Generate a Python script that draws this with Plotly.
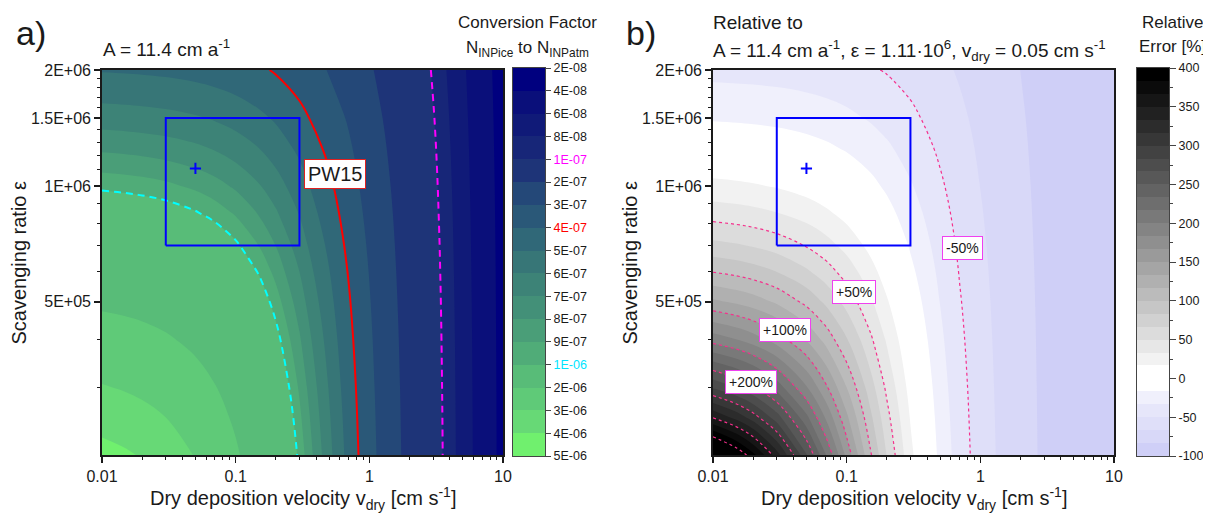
import numpy as np
import plotly.graph_objects as go

# ---------------- data ----------------
V_DRY = [0.01, 0.015, 0.02, 0.03, 0.05, 0.07, 0.1, 0.15, 0.2, 0.3, 0.5, 0.7, 1, 1.5, 2, 3, 5, 7, 10]
EPSILON = [2e5, 2.5e5, 3e5, 4e5, 5e5, 6e5, 7e5, 8.5e5, 1e6, 1.25e6, 1.5e6, 2e6]
# conversion factor N_INPice -> N_INPatm, in units of 1e-7 (rows: EPSILON, cols: V_DRY)
FACTOR_E7 = [
    [43.92, 41.40, 39.16, 35.33, 29.55, 25.40, 20.97, 16.25, 13.27, 9.705, 6.313, 4.678, 3.369, 2.298, 1.743, 1.176, 0.7122, 0.5108, 0.3587],
    [36.01, 34.30, 32.75, 30.03, 25.75, 22.53, 18.98, 15.03, 12.44, 9.255, 6.120, 4.571, 3.313, 2.272, 1.728, 1.169, 0.7097, 0.5095, 0.3580],
    [30.52, 29.28, 28.14, 26.11, 22.81, 20.25, 17.34, 13.98, 11.71, 8.846, 5.938, 4.469, 3.259, 2.246, 1.713, 1.162, 0.7072, 0.5082, 0.3574],
    [23.38, 22.65, 21.96, 20.70, 18.57, 16.84, 14.77, 12.27, 10.49, 8.127, 5.605, 4.278, 3.156, 2.197, 1.685, 1.149, 0.7022, 0.5056, 0.3561],
    [18.95, 18.47, 18.01, 17.15, 15.66, 14.41, 12.87, 10.93, 9.491, 7.516, 5.308, 4.102, 3.060, 2.149, 1.657, 1.136, 0.6973, 0.5031, 0.3548],
    [15.93, 15.59, 15.26, 14.64, 13.54, 12.60, 11.40, 9.850, 8.668, 6.991, 5.040, 3.941, 2.969, 2.104, 1.630, 1.123, 0.6925, 0.5006, 0.3536],
    [13.74, 13.49, 13.24, 12.77, 11.93, 11.19, 10.24, 8.967, 7.977, 6.534, 4.798, 3.791, 2.883, 2.061, 1.604, 1.111, 0.6877, 0.4981, 0.3523],
    [11.39, 11.22, 11.05, 10.72, 10.12, 9.581, 8.875, 7.904, 7.124, 5.951, 4.476, 3.587, 2.764, 1.999, 1.566, 1.092, 0.6807, 0.4944, 0.3505],
    [9.731, 9.601, 9.475, 9.233, 8.784, 8.377, 7.832, 7.066, 6.437, 5.463, 4.195, 3.404, 2.654, 1.941, 1.530, 1.075, 0.6738, 0.4907, 0.3487],
    [7.827, 7.743, 7.661, 7.502, 7.203, 6.926, 6.550, 6.005, 5.544, 4.807, 3.796, 3.137, 2.489, 1.851, 1.474, 1.047, 0.6627, 0.4848, 0.3456],
    [6.546, 6.487, 6.429, 6.317, 6.103, 5.904, 5.628, 5.221, 4.869, 4.291, 3.467, 2.909, 2.343, 1.769, 1.421, 1.020, 0.6518, 0.4790, 0.3427],
    [4.932, 4.898, 4.865, 4.801, 4.676, 4.558, 4.392, 4.140, 3.916, 3.533, 2.955, 2.540, 2.097, 1.625, 1.327, 0.9705, 0.6313, 0.4678, 0.3369],
]
REF_FACTOR = 8.01e-7          # factor at the reference point (+ marker)
REF_V, REF_EPS = 0.05, 1.11e6
BOX_V = [0.03, 0.3]
BOX_EPS = [7e5, 1.5e6]

LEVELS_A = [2e-8, 4e-8, 6e-8, 8e-8, 1e-7, 2e-7, 3e-7, 4e-7, 5e-7, 6e-7, 7e-7, 8e-7, 9e-7,
            1e-6, 2e-6, 3e-6, 4e-6, 5e-6]
LEVEL_LABELS_A = ['2E-08', '4E-08', '6E-08', '8E-08', '1E-07', '2E-07', '3E-07', '4E-07', '5E-07',
                  '6E-07', '7E-07', '8E-07', '9E-07', '1E-06', '2E-06', '3E-06', '4E-06', '5E-06']
LINE_LEVELS_A = {'1E-06': 1e-6, '4E-07': 4e-7, '1E-07': 1e-7}

REL_MIN, REL_MAX, REL_NBANDS = -100, 400, 30
REL_TICKS = [-100, -50, 0, 50, 100, 150, 200, 250, 300, 350, 400]
REL_LINES_POS = [50, 100, 150, 200, 250, 300, 350, 400]
REL_LINE_NEG = -50
REL_LABELS = [('-50%', 0.74, 6.9e5), ('+50%', 0.113, 5.3e5), ('+100%', 0.0344, 4.22e5), ('+200%', 0.01915, 3.09e5)]

X_TICKS = [0.01, 0.1, 1, 10]
X_TICK_TEXT = ['0.01', '0.1', '1', '10']
X_MINOR = [0.02, 0.03, 0.04, 0.05, 0.06, 0.07, 0.08, 0.09, 0.2, 0.3, 0.4, 0.5, 0.6, 0.7, 0.8, 0.9,
           2, 3, 4, 5, 6, 7, 8, 9]
Y_TICKS = [5e5, 1e6, 1.5e6, 2e6]
Y_TICK_TEXT = ['5E+05', '1E+06', '1.5E+06', '2E+06']
Y_MINOR = [3e5, 4e5, 6e5, 7e5, 8e5, 9e5, 1.1e6, 1.2e6, 1.3e6, 1.4e6, 1.6e6, 1.7e6, 1.8e6, 1.9e6]

# ---------------- styles ----------------
BAND_A = ['#00007f', '#0a0f7a', '#101a78', '#172678', '#1e3478', '#244878', '#2a5878', '#306878',
          '#377677', '#3d8377', '#439078', '#4a9e78', '#50ac78', '#58bc78', '#5fca78', '#67d976', '#70f06e']
grays = ['#%02x%02x%02x' % (g, g, g) for g in [242 - 11 * i for i in range(23)]]
BAND_B = ['#cfcff7', '#d8d8f8', '#dfdff9', '#e6e6fa', '#f0f0fc', '#ffffff', '#ffffff'] + grays
LINE_COLORS_A = {'1E-06': ('#00ffff', '7px,5px'), '4E-07': ('#ff0000', 'solid'), '1E-07': ('#ff00ff', '7px,5px')}
PINK = '#f5308c'
FONT = 'Arial, Liberation Sans, sans-serif'
INK = '#1a1a1a'
TRANSPARENT = 'rgba(255,255,255,0)'

# the page body adds an 8 px offset; the figure is sized to fill the rest of the window
OFF = 8
W, H = 1211 - OFF, 521 - OFF


def px(x):
    return (x - OFF) / W


def py(y):
    return 1 - (y - OFF) / H


def fill_scale(region_colors):
    n = len(region_colors) - 1
    cs = []
    for m, c in enumerate(region_colors):
        cs.append([max(0.0, (m - 0.5) / n), c])
        cs.append([min(1.0, (m + 0.5) / n), c])
    return cs


def step_scale(colors):
    n = len(colors)
    cs = []
    for k, c in enumerate(colors):
        cs.append([k / n, c])
        cs.append([(k + 1) / n, c])
    return cs


F = np.array(FACTOR_E7) * 1e-7
logF = np.log10(F)
rel = 100.0 * (F / REF_FACTOR - 1.0)

fig = go.Figure()

# ---- panel a: stacked single-level fills (non-uniform levels) ----
for k in range(len(BAND_A)):
    lev = float(np.log10(LEVELS_A[k]))
    below = BAND_A[k] if k == 0 else TRANSPARENT
    fig.add_trace(go.Contour(
        x=V_DRY, y=EPSILON, z=logF, xaxis='x', yaxis='y', autocontour=False,
        contours=dict(start=lev, end=lev, size=1, coloring='fill', showlines=False),
        colorscale=[[0, below], [1, BAND_A[k]]],
        line=dict(width=0), showscale=False, hoverinfo='skip'))
for lab, lev in LINE_LEVELS_A.items():
    col, dash = LINE_COLORS_A[lab]
    lv = float(np.log10(lev))
    fig.add_trace(go.Contour(
        x=V_DRY, y=EPSILON, z=logF, xaxis='x', yaxis='y', autocontour=False,
        contours=dict(start=lv, end=lv, size=1, coloring='none'),
        line=dict(color=col, width=2, dash=dash), showscale=False, hoverinfo='skip'))

# ---- panel b ----
fig.add_trace(go.Contour(
    x=V_DRY, y=EPSILON, z=rel, xaxis='x2', yaxis='y2', autocontour=False,
    contours=dict(start=REL_MIN, end=REL_MAX, size=(REL_MAX - REL_MIN) / REL_NBANDS,
                  coloring='fill', showlines=False),
    colorscale=fill_scale([BAND_B[0]] + BAND_B + ['#000000']),
    line=dict(width=0), showscale=False, hoverinfo='skip'))
fig.add_trace(go.Contour(
    x=V_DRY, y=EPSILON, z=rel, xaxis='x2', yaxis='y2', autocontour=False,
    contours=dict(start=REL_LINES_POS[0], end=REL_LINES_POS[-1], size=50, coloring='none'),
    line=dict(color=PINK, width=1.2, dash='3px,3px'), showscale=False, hoverinfo='skip'))
fig.add_trace(go.Contour(
    x=V_DRY, y=EPSILON, z=rel, xaxis='x2', yaxis='y2', autocontour=False,
    contours=dict(start=REL_LINE_NEG, end=REL_LINE_NEG, size=50, coloring='none'),
    line=dict(color=PINK, width=1.2, dash='3px,3px'), showscale=False, hoverinfo='skip'))

# ---- box and reference marker on both panels ----
for xa, ya in (('x', 'y'), ('x2', 'y2')):
    fig.add_trace(go.Scatter(
        x=[BOX_V[0], BOX_V[1], BOX_V[1], BOX_V[0], BOX_V[0]],
        y=[BOX_EPS[0], BOX_EPS[0], BOX_EPS[1], BOX_EPS[1], BOX_EPS[0]],
        mode='lines', line=dict(color='#0000ff', width=2), xaxis=xa, yaxis=ya,
        showlegend=False, hoverinfo='skip'))
    fig.add_trace(go.Scatter(
        x=[REF_V], y=[REF_EPS], mode='markers', xaxis=xa, yaxis=ya,
        marker=dict(symbol='cross-thin', size=8, line=dict(color='#0000ff', width=2)),
        showlegend=False, hoverinfo='skip'))

# ---- manual colour bars ----
nA = len(BAND_A)
fig.add_trace(go.Heatmap(
    x=[0], y=[k + 0.5 for k in range(nA)], z=[[k] for k in range(nA)],
    xaxis='x3', yaxis='y3', zmin=-0.5, zmax=nA - 0.5,
    colorscale=step_scale(BAND_A), showscale=False, hoverinfo='skip'))
bw = (REL_MAX - REL_MIN) / REL_NBANDS
fig.add_trace(go.Heatmap(
    x=[0], y=[REL_MIN + (j + 0.5) * bw for j in range(REL_NBANDS)], z=[[j] for j in range(REL_NBANDS)],
    xaxis='x4', yaxis='y4', zmin=-0.5, zmax=REL_NBANDS - 0.5,
    colorscale=step_scale(BAND_B), showscale=False, hoverinfo='skip'))

# ---------------- axes ----------------
PLOT_Y = [py(455), py(70)]
CB_Y = [py(456), py(68)]


def xax(domain, anchor):
    return dict(domain=domain, anchor=anchor, type='log', range=[-2, 1], automargin=False,
                tickmode='array', tickvals=X_TICKS, ticktext=X_TICK_TEXT,
                ticks='outside', ticklen=6, tickwidth=1.5, tickcolor=INK,
                showline=True, linewidth=1.8, linecolor=INK, mirror=True,
                showgrid=False, zeroline=False, tickfont=dict(size=16, color=INK, family=FONT),
                minor=dict(tickmode='array', tickvals=X_MINOR, ticks='outside', ticklen=3.5,
                           tickwidth=1, tickcolor=INK))


def yax(anchor):
    return dict(domain=PLOT_Y, anchor=anchor, type='log', automargin=False,
                range=[np.log10(EPSILON[0]), np.log10(EPSILON[-1])],
                tickmode='array', tickvals=Y_TICKS, ticktext=Y_TICK_TEXT,
                ticks='outside', ticklen=6, tickwidth=1.5, tickcolor=INK,
                showline=True, linewidth=1.8, linecolor=INK, mirror=True,
                showgrid=False, zeroline=False, tickfont=dict(size=16, color=INK, family=FONT),
                minor=dict(tickmode='array', tickvals=Y_MINOR, ticks='outside', ticklen=3.5,
                           tickwidth=1, tickcolor=INK))


def cbx(domain, anchor):
    return dict(domain=domain, anchor=anchor, range=[-0.5, 0.5], showticklabels=False, ticks='',
                showline=True, linewidth=1, linecolor='#444', mirror=True, showgrid=False,
                zeroline=False, automargin=False)


colored = {'1E-07': '#ff00ff', '4E-07': '#ff0000', '1E-06': '#00e5ff'}
cb_text_a = ['<span style="color:%s">%s</span>' % (colored[t], t) if t in colored else t
             for t in LEVEL_LABELS_A]

rel_minor = [v for v in range(REL_MIN, REL_MAX + 1, 25) if v % 50 != 0]

fig.update_layout(
    template='none',
    width=W, height=H, autosize=False,
    margin=dict(l=0, r=0, t=0, b=0, pad=0, autoexpand=False),
    paper_bgcolor='white', plot_bgcolor='white',
    font=dict(family=FONT, color=INK),
    showlegend=False,
    xaxis=xax([px(102), px(503)], 'y'),
    yaxis=yax('x'),
    xaxis2=xax([px(713), px(1114)], 'y2'),
    yaxis2=yax('x2'),
    xaxis3=cbx([px(513), px(545)], 'y3'),
    yaxis3=dict(domain=CB_Y, anchor='x3', side='right', range=[nA, 0], automargin=False,
                tickmode='array', tickvals=list(range(nA + 1)), ticktext=cb_text_a,
                ticks='outside', ticklen=5, tickwidth=1, tickcolor='#444',
                showline=True, linewidth=1, linecolor='#444', mirror=True, showgrid=False,
                zeroline=False, tickfont=dict(size=12.5, color=INK, family=FONT)),
    xaxis4=cbx([px(1137), px(1169)], 'y4'),
    yaxis4=dict(domain=CB_Y, anchor='x4', side='right', range=[REL_MIN, REL_MAX], automargin=False,
                tickmode='array', tickvals=REL_TICKS, ticktext=[str(v) for v in REL_TICKS],
                ticks='outside', ticklen=6, tickwidth=1, tickcolor='#444',
                showline=True, linewidth=1, linecolor='#444', mirror=True, showgrid=False,
                zeroline=False, tickfont=dict(size=12.5, color=INK, family=FONT),
                minor=dict(tickmode='array', tickvals=rel_minor, ticks='outside', ticklen=3,
                           tickwidth=1, tickcolor='#444')),
)

ann = []


def txt(text, x, y, size, xanchor='left', yanchor='middle', angle=0):
    ann.append(dict(text=text, x=x, y=y, xref='paper', yref='paper', showarrow=False,
                    xanchor=xanchor, yanchor=yanchor, textangle=angle,
                    font=dict(size=size, color=INK, family=FONT)))


txt('a)', px(14), py(33), 34)
txt('b)', px(624), py(33), 34)
txt('A = 11.4 cm a<sup>-1</sup>', px(101), py(48), 19)
txt('Relative to', px(711), py(22), 19)
txt('A = 11.4 cm a<sup>-1</sup>, ε = 1.11·10<sup>6</sup>, v<sub>dry</sub> = 0.05 cm s<sup>-1</sup>',
    px(711), py(50), 19)
txt('Conversion Factor', px(527), py(22), 17, xanchor='center')
txt('N<sub>INPice</sub> to N<sub>INPatm</sub>', px(527), py(49), 17, xanchor='center')
txt('Relative', px(1172), py(22), 17, xanchor='center')
txt('Error [%]', px(1172), py(47), 17, xanchor='center')
xt = 'Dry deposition velocity v<sub>dry</sub> [cm s<sup>-1</sup>]'
txt(xt, px(302.5), py(498), 20, xanchor='center')
txt(xt, px(913.5), py(498), 20, xanchor='center')
txt('Scavenging ratio ε', px(18), py(262.5), 20, xanchor='center', angle=-90)
txt('Scavenging ratio ε', px(629), py(262.5), 20, xanchor='center', angle=-90)

ann.append(dict(text='PW15', x=np.log10(0.553), y=np.log10(1.074e6), xref='x', yref='y',
                showarrow=False, bgcolor='white', bordercolor='#e02020', borderwidth=1, borderpad=3,
                font=dict(size=20, color=INK, family=FONT)))
for lab, xv, yv in REL_LABELS:
    ann.append(dict(text=lab, x=np.log10(xv), y=np.log10(yv), xref='x2', yref='y2',
                    showarrow=False, bgcolor='white', bordercolor='#f040f0', borderwidth=1,
                    borderpad=3, font=dict(size=14, color=INK, family=FONT)))

fig.update_layout(annotations=ann)

fig.write_html('out.html', config={'displayModeBar': False, 'staticPlot': True})
